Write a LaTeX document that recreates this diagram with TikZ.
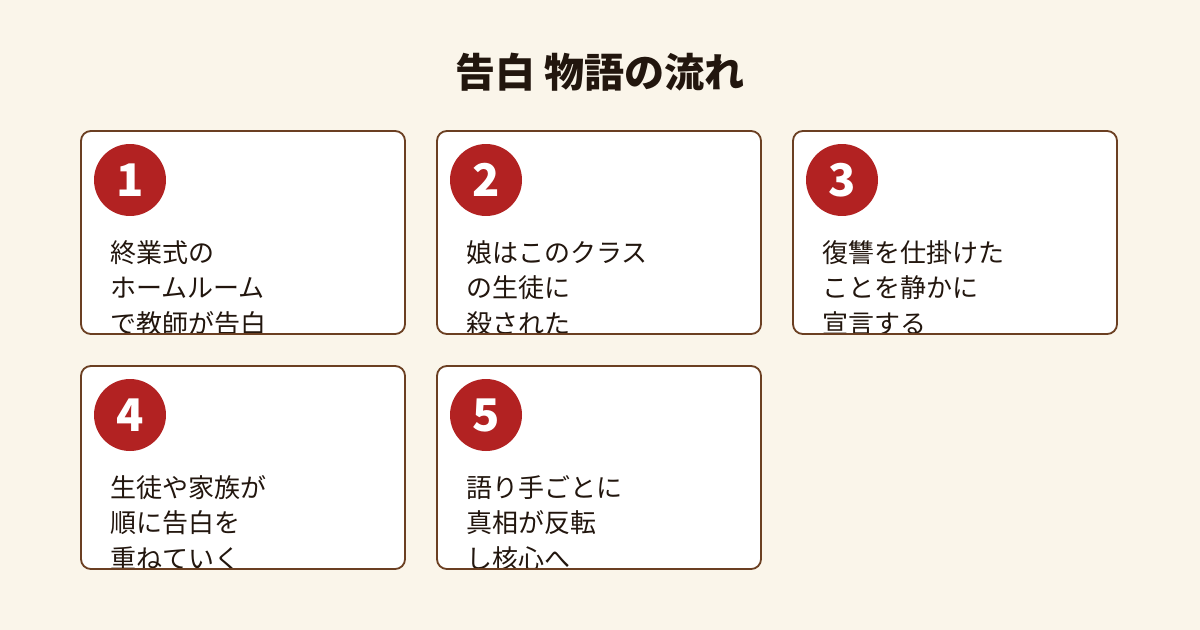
\documentclass[tikz,border=0pt]{standalone}
\usepackage{fontspec}
\setmainfont{Noto Sans CJK JP}
\definecolor{bgcream}{HTML}{FAF5EA}
\definecolor{boxbrown}{HTML}{6B3F22}
\definecolor{numred}{HTML}{B22222}
\definecolor{titleink}{HTML}{22160E}
\begin{document}
\begin{tikzpicture}[x=0.05cm,y=-0.05cm]
  \tikzset{
    card/.style={draw=boxbrown,line width=2.6pt,rounded corners=14pt},
    badge/.style={circle,fill=numred,minimum size=72*1.4226pt,inner sep=0pt,text=white,font=\fontsize{64pt}{68pt}\selectfont\bfseries},
    story/.style={anchor=base west,inner sep=0pt,align=left,text=titleink,font=\fontsize{37pt}{50.5pt}\selectfont}
  }
  \fill[bgcream] (0,0) rectangle (1200,630);
  \node[text=titleink,font=\fontsize{57pt}{60pt}\selectfont\bfseries] (title) at (600,72) {告白 物語の流れ};
  \foreach \n/\x/\y/\txt in {
    1/81/131/{終業式の\\ホームルーム\\で教師が告白},
    2/437/131/{娘はこのクラス\\の生徒に\\殺された},
    3/793/131/{復讐を仕掛けた\\ことを静かに\\宣言する},
    4/81/366/{生徒や家族が\\順に告白を\\重ねていく},
    5/437/366/{語り手ごとに\\真相が反転\\し核心へ}} {
    \fill[white,rounded corners=14pt] (\x,\y) rectangle ++(324,203);
    \begin{scope}
      \clip (\x,\y) rectangle ++(324,203);
      \node[story] (text\n) at (\x+29,\y+202) {\txt};
    \end{scope}
    \draw[card] (\x,\y) rectangle ++(324,203);
    \node[badge] (num\n) at (\x+49,\y+49) {\n};
  }
\end{tikzpicture}
\end{document}
